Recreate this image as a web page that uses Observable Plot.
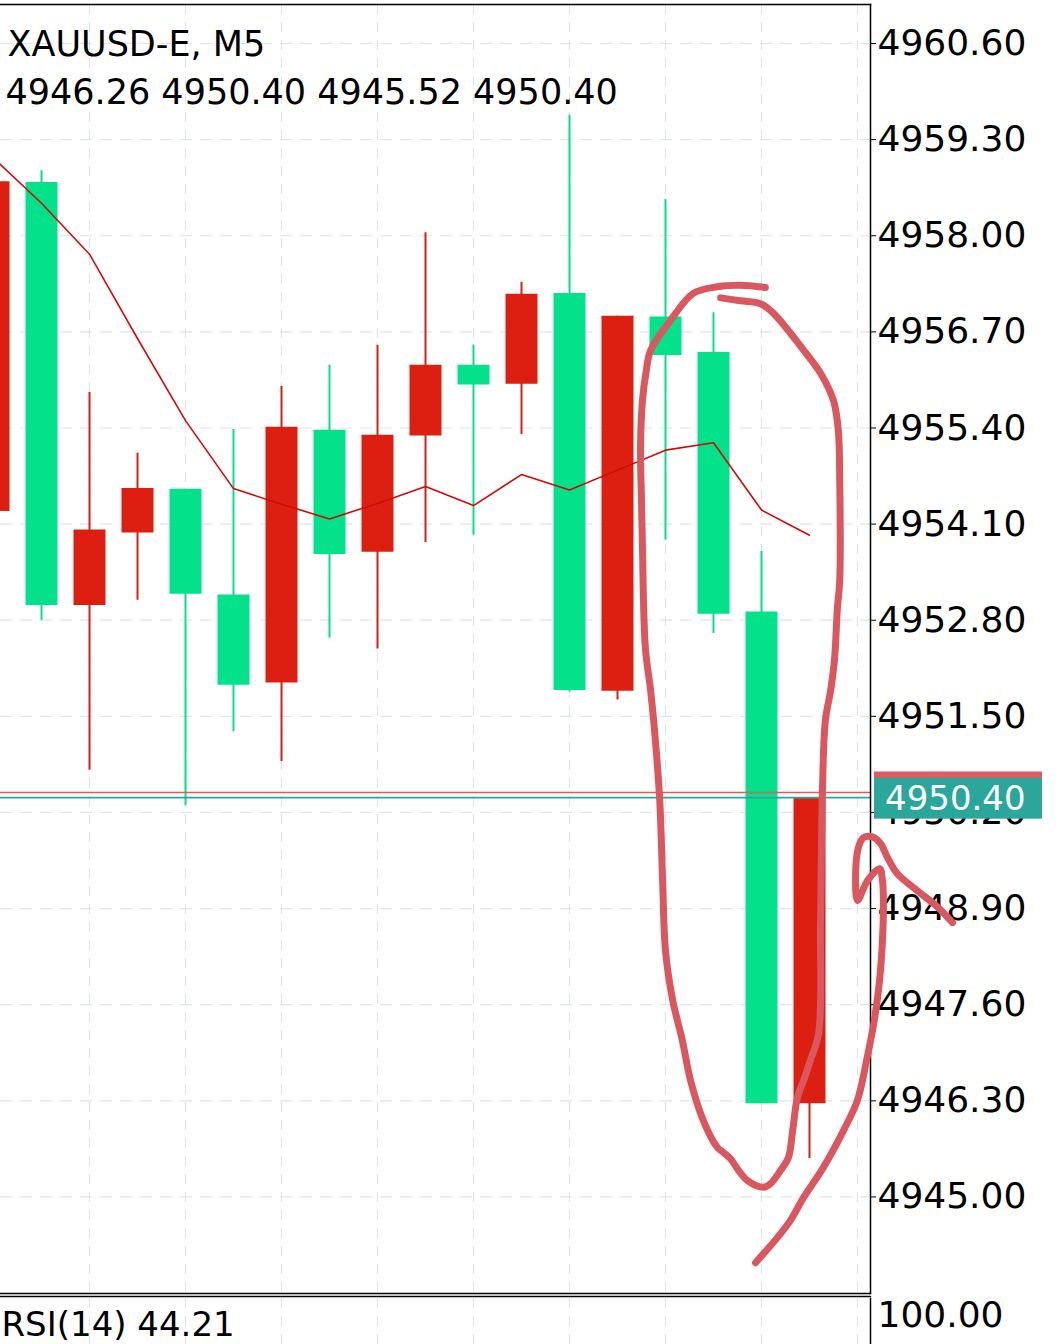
<!DOCTYPE html>
<html><head><meta charset="utf-8">
<script src="https://cdn.jsdelivr.net/npm/d3@7"></script>
<script src="https://cdn.jsdelivr.net/npm/@observablehq/plot@0.6"></script>
<style>
body{margin:0;background:#fff;}
#chart{position:relative;width:1060px;height:1344px;overflow:hidden;font-family:"DejaVu Sans";background:#fff;}
#chart svg{display:block;}
</style></head><body><div id="chart"></div>
<script>
// ---- data ----
const symbolTitle = "XAUUSD-E, M5";
const ohlcText = "4946.26 4950.40 4945.52 4950.40";
const candleIndex = [0,1,2,3,4,5,6,7,8,9,10,11,12,13,14,15,16,17];
const openPrices  = [4954.27,4958.72,4953.00,4953.98,4954.57,4953.14,4951.95,4955.37,4953.72,4955.29,4956.25,4955.99,4957.22,4951.84,4956.90,4956.42,4952.91,4946.26];
const highPrices  = [4958.73,4958.88,4955.88,4955.06,4954.57,4955.38,4955.96,4956.25,4956.52,4958.04,4956.52,4957.37,4959.63,4956.91,4958.49,4956.96,4953.73,4950.40];
const lowPrices   = [4954.27,4952.80,4950.77,4953.07,4950.29,4951.29,4950.89,4952.56,4952.41,4953.85,4953.95,4955.31,4951.83,4951.72,4953.88,4952.62,4946.26,4945.52];
const closePrices = [4958.73,4953.00,4954.02,4954.58,4953.15,4951.92,4955.41,4953.69,4955.30,4956.25,4955.98,4957.21,4951.85,4956.91,4956.38,4952.88,4946.26,4950.40];
const maValues    = [4959.05,4958.44,4957.75,4956.61,4955.50,4954.58,4954.37,4954.17,4954.38,4954.61,4954.35,4954.77,4954.56,4954.83,4955.10,4955.20,4954.29,4953.95];
const yTicks = [4945.00,4946.30,4947.60,4948.90,4950.20,4951.50,4952.80,4954.10,4955.40,4956.70,4958.00,4959.30,4960.60];
const gridCandles = [2,4,6,8,10,12,14,16,18];
const bidPrice = 4950.40;
const askPrice = 4950.47;
const rsiText = "RSI(14) 44.21";
const rsiTicks = [100];
const xDomain = [0.1458, 18.2708];
const yDomain = [4943.694, 4961.1275];
// hand-drawn annotation strokes (candle index, price)
const loopIdx   = [16.08,15.56,15.08,14.58,14.10,13.69,13.60,13.52,13.48,13.50,13.52,13.58,13.69,13.79,13.88,13.94,14.00,14.15,14.35,14.52,14.79,15.08,15.21,15.35,15.52,15.71,16.04,16.19,16.40,16.56,16.65,16.75,16.88,17.02,17.19,17.23,17.27,17.33,17.44,17.52,17.58,17.63,17.63,17.60,17.50,17.23,16.88,16.25,15.98,15.56,15.15];
const loopPrice = [4957.30,4957.33,4957.31,4957.22,4956.85,4956.45,4956.18,4955.77,4955.14,4954.42,4953.78,4952.43,4951.85,4951.17,4950.36,4949.28,4948.33,4947.66,4947.12,4946.58,4946.03,4945.67,4945.60,4945.52,4945.36,4945.22,4945.13,4945.18,4945.36,4945.53,4945.90,4946.35,4946.58,4946.85,4947.21,4948.74,4950.50,4951.44,4951.85,4952.26,4952.95,4953.34,4954.69,4955.37,4955.77,4956.14,4956.45,4956.95,4957.08,4957.12,4957.16];
const hookIdx   = [15.875,16.33,16.60,16.875,17.29,17.71,18.00,18.19,18.35,18.46,18.52,18.54,18.52,18.46,18.21,18.00,17.96,18.02,18.125,18.31,18.48,18.625,18.83,19.25,19.67,19.98];
const hookPrice = [4944.11,4944.45,4944.68,4944.99,4945.40,4945.90,4946.31,4946.85,4947.39,4947.93,4948.47,4949.01,4949.28,4949.44,4949.28,4949.01,4949.32,4949.73,4949.86,4949.87,4949.78,4949.59,4949.37,4949.14,4948.92,4948.71];

// ---- styles ----
const UP = "#dc1f10", DOWN = "#03e28a", MA = "#d10a0a";
const GRID = "#dde5eb", TEAL = "#2aa69b", ASK = "#e05a5e", PEN = "#d9575e";
const FONT = "DejaVu Sans";

const candles = candleIndex.map((i, k) => ({i, open: openPrices[k], high: highPrices[k], low: lowPrices[k], close: closePrices[k]}));
const ma = candleIndex.map((i, k) => ({i, v: maValues[k]}));
const loop = loopIdx.map((i, k) => ({i, p: loopPrice[k]}));
const hook = hookIdx.map((i, k) => ({i, p: hookPrice[k]}));
const col = d => d.close >= d.open ? UP : DOWN;

const plotA = Plot.plot({
  width: 1060, height: 1298,
  marginTop: 4, marginBottom: 5, marginLeft: 0, marginRight: 190,
  style: {fontFamily: FONT, color: "#000", background: "transparent", overflow: "visible"},
  x: {domain: xDomain, axis: null},
  y: {domain: yDomain},
  marks: [
    Plot.ruleY(yTicks, {stroke: GRID, strokeWidth: 1.2, strokeDasharray: "12,8"}),
    Plot.ruleX(gridCandles, {stroke: GRID, strokeWidth: 1.2, strokeDasharray: "10,8"}),
    Plot.ruleX(candles, {x: "i", y1: "low", y2: "high", stroke: col, strokeWidth: 2}),
    Plot.ruleX(candles, {x: "i", y1: "open", y2: "close", stroke: col, strokeWidth: 32, strokeLinecap: "butt"}),
    Plot.line(ma, {x: "i", y: "v", stroke: MA, strokeWidth: 1.6}),
    Plot.ruleY([askPrice], {stroke: ASK, strokeWidth: 1.6}),
    Plot.ruleY([bidPrice], {stroke: TEAL, strokeWidth: 1.6}),
    Plot.frame({anchor: "top", stroke: "#000", strokeWidth: 1.5}),
    Plot.frame({anchor: "right", stroke: "#000", strokeWidth: 1.5}),
    Plot.frame({anchor: "bottom", stroke: "#000", strokeWidth: 1.3}),
    Plot.frame({anchor: "bottom", stroke: "#000", strokeWidth: 1.3, dy: 3}),
    Plot.axisY({ticks: yTicks, anchor: "right", tickFormat: d => d.toFixed(2), tickSize: 5, tickPadding: 2, fontSize: 36, label: null, stroke: "#000", fill: "#000"}),
    Plot.text([symbolTitle], {frameAnchor: "top-left", textAnchor: "start", lineAnchor: "top", dx: 7, dy: 27, fontSize: 35, fill: "#000"}),
    Plot.text([ohlcText], {frameAnchor: "top-left", textAnchor: "start", lineAnchor: "top", dx: 5, dy: 75, fontSize: 35, fill: "#000"}),
    Plot.line(loop, {x: "i", y: "p", stroke: PEN, strokeWidth: 7, curve: "catmull-rom", strokeLinecap: "round", strokeLinejoin: "round"}),
    Plot.line(hook, {x: "i", y: "p", stroke: PEN, strokeWidth: 7, curve: "catmull-rom", strokeLinecap: "round", strokeLinejoin: "round"})
  ]
});

// price labels on the right axis, positioned through the y scale
(function addPriceLabels() {
  const ys = plotA.scale("y");
  const svgNode = plotA.tagName.toLowerCase() === "svg" ? plotA : plotA.querySelector("svg");
  const svg = d3.select(svgNode);
  const right = 1060 - 190;
  const g = svg.append("g").attr("text-anchor", "start");
  const boxW = 168, boxH = 41;
  g.append("rect").attr("x", right + 4).attr("y", ys.apply(askPrice) - boxH / 2).attr("width", boxW).attr("height", boxH).attr("fill", ASK);
  g.append("rect").attr("x", right + 4).attr("y", ys.apply(bidPrice) - boxH / 2 + 1).attr("width", boxW).attr("height", boxH).attr("fill", TEAL);
  g.append("text").attr("x", right + 15).attr("y", ys.apply(bidPrice) + 1).attr("dy", "0.36em")
    .attr("text-anchor", "start").attr("fill", "#fff").attr("font-size", 34).attr("font-family", FONT).text(bidPrice.toFixed(2));
  // keep the hand-drawn strokes (last two line groups) on top
  const lines = Array.from(svgNode.querySelectorAll(':scope > g[aria-label="line"]'));
  lines.slice(-2).forEach(n => svgNode.appendChild(n));
})();

const plotB = Plot.plot({
  width: 1060, height: 46,
  marginTop: 0, marginBottom: 0, marginLeft: 0, marginRight: 190,
  style: {fontFamily: FONT, color: "#000", background: "transparent", overflow: "visible"},
  x: {domain: xDomain, axis: null},
  y: {domain: [0, 100], range: [300, 0], axis: null},
  marks: [
    Plot.ruleX(gridCandles, {stroke: GRID, strokeWidth: 1.2, strokeDasharray: "10,8"}),
    Plot.frame({anchor: "right", stroke: "#000", strokeWidth: 1.5}),
    Plot.text(rsiTicks, {y: d => d, text: d => d.toFixed(2), frameAnchor: "right", textAnchor: "start", lineAnchor: "top", dx: 7, dy: 3, fontSize: 36, fill: "#000"}),
    Plot.text([rsiText], {frameAnchor: "top-left", textAnchor: "start", lineAnchor: "top", dx: 1, dy: 13, fontSize: 34, fill: "#000"})
  ]
});

const chart = document.getElementById("chart");
chart.appendChild(plotA);
chart.appendChild(plotB);
</script>
</body></html>
